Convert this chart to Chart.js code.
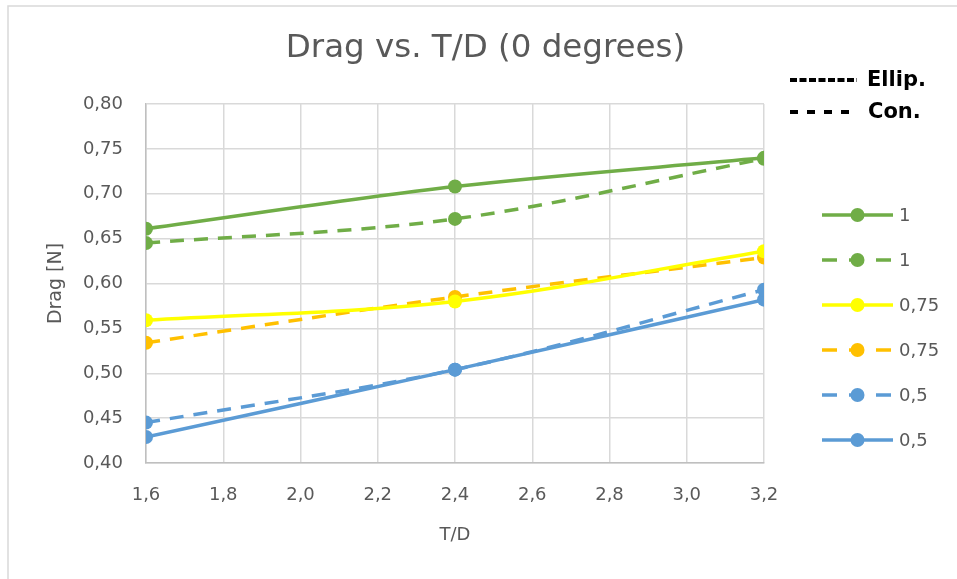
<!DOCTYPE html>
<html>
<head>
<meta charset="utf-8">
<script src="https://cdn.jsdelivr.net/npm/chart.js@4"></script>
<style>
    body { margin: 0; background: #fff; }
    #wrap { position: relative; width: 957px; height: 579px; }
</style>
</head>
<body>
<div id="wrap"><canvas id="dragChart" width="957" height="579"></canvas></div>
<script>
// T/D values and drag values [N]
const tdValues = [1.6, 2.4, 3.2];
const xTicks = [1.6, 1.8, 2.0, 2.2, 2.4, 2.6, 2.8, 3.0, 3.2];
const yTicks = [0.40, 0.45, 0.50, 0.55, 0.60, 0.65, 0.70, 0.75, 0.80];

const ellip1 = [0.661, 0.708, 0.740];
const con1 = [0.645, 0.672, 0.739];
const ellip075 = [0.559, 0.580, 0.636];
const con075 = [0.534, 0.585, 0.629];
const con05 = [0.445, 0.504, 0.593];
const ellip05 = [0.429, 0.504, 0.582];

const seriesLabels = ['1', '1', '0,75', '0,75', '0,5', '0,5'];
const chartTitle = 'Drag vs. T/D (0 degrees)';

const GRAY = '#595959';
const FONT = '"DejaVu Sans", sans-serif';

function makeSet(label, values, color, dashed) {
    return {
        label: label,
        data: values.map((v, i) => ({ x: tdValues[i], y: v })),
        borderColor: color,
        backgroundColor: color,
        borderWidth: 3.5,
        borderDash: dashed ? [14, 10] : [],
        pointRadius: 7,
        pointHoverRadius: 7,
        pointBorderWidth: 0,
        pointBackgroundColor: color,
        tension: 0.35,
        fill: false
    };
}

const datasets = [
    makeSet(seriesLabels[0], ellip1, '#70AD47', false),
    makeSet(seriesLabels[1], con1, '#70AD47', true),
    makeSet(seriesLabels[2], ellip075, '#FFFF00', false),
    makeSet(seriesLabels[3], con075, '#FFC000', true),
    makeSet(seriesLabels[4], con05, '#5B9BD5', true),
    makeSet(seriesLabels[5], ellip05, '#5B9BD5', false)
];

// frame, title, legend and the Ellip./Con. key
const extras = {
    id: 'extras',
    beforeDraw(chart) {
        const ctx = chart.ctx;
        ctx.save();
        ctx.fillStyle = '#fff';
        ctx.fillRect(0, 0, chart.width, chart.height);
        ctx.strokeStyle = '#D9D9D9';
        ctx.lineWidth = 1.5;
        ctx.beginPath();
        ctx.moveTo(8, chart.height);
        ctx.lineTo(8, 6);
        ctx.lineTo(chart.width, 6);
        ctx.stroke();
        ctx.restore();
    },
    afterDraw(chart) {
        const ctx = chart.ctx;
        ctx.save();
        // title (centred on the whole frame, not the plot)
        ctx.fillStyle = GRAY;
        ctx.font = '32.5px ' + FONT;
        ctx.textAlign = 'center';
        ctx.textBaseline = 'middle';
        ctx.fillText(chartTitle, 485.5, 49);
        // legend
        const x0 = 822, x1 = 893, top = 215, step = 45;
        chart.data.datasets.forEach((ds, i) => {
            const y = top + i * step;
            ctx.strokeStyle = ds.borderColor;
            ctx.lineWidth = 3.5;
            ctx.setLineDash(ds.borderDash.length ? [15, 12] : []);
            ctx.beginPath();
            ctx.moveTo(x0, y);
            ctx.lineTo(x1, y);
            ctx.stroke();
            ctx.setLineDash([]);
            ctx.fillStyle = ds.borderColor;
            ctx.beginPath();
            ctx.arc((x0 + x1) / 2, y, 7, 0, Math.PI * 2);
            ctx.fill();
            ctx.fillStyle = GRAY;
            ctx.font = '18px ' + FONT;
            ctx.textAlign = 'left';
            ctx.textBaseline = 'middle';
            ctx.fillText(ds.label, 899, y + 1);
        });
        // shape key
        ctx.strokeStyle = '#000';
        ctx.lineWidth = 4;
        ctx.setLineDash([7, 2.5]);
        ctx.beginPath();
        ctx.moveTo(790, 80);
        ctx.lineTo(857, 80);
        ctx.stroke();
        ctx.setLineDash([8, 9]);
        ctx.beginPath();
        ctx.moveTo(790, 112);
        ctx.lineTo(852, 112);
        ctx.stroke();
        ctx.setLineDash([]);
        ctx.fillStyle = '#000';
        ctx.font = 'bold 21px ' + FONT;
        ctx.textAlign = 'left';
        ctx.textBaseline = 'middle';
        ctx.fillText('Ellip.', 867, 81);
        ctx.fillText('Con.', 868, 113);
        ctx.restore();
    }
};

const ctx = document.getElementById('dragChart').getContext('2d');
new Chart(ctx, {
    type: 'line',
    data: { datasets: datasets },
    options: {
        responsive: false,
        animation: false,
        events: [],
        layout: { padding: { left: 30, right: 193, top: 104, bottom: 20 } },
        plugins: {
            legend: { display: false },
            tooltip: { enabled: false },
            title: { display: false }
        },
        scales: {
            x: {
                type: 'linear',
                min: xTicks[0],
                max: xTicks[xTicks.length - 1],
                afterBuildTicks: (axis) => { axis.ticks = xTicks.map(v => ({ value: v })); },
                afterFit: (axis) => { axis.height = 96; },
                ticks: {
                    color: GRAY,
                    font: { family: FONT, size: 18 },
                    padding: 22,
                    maxRotation: 0,
                    callback: (v) => v.toFixed(1).replace('.', ',')
                },
                grid: { color: '#D9D9D9', lineWidth: 1.5, drawTicks: false },
                border: { color: '#BFBFBF', width: 1.5 },
                title: {
                    display: true,
                    text: 'T/D',
                    color: GRAY,
                    font: { family: FONT, size: 18 },
                    padding: { top: 0, bottom: 13 }
                }
            },
            y: {
                min: yTicks[0],
                max: yTicks[yTicks.length - 1],
                afterBuildTicks: (axis) => { axis.ticks = yTicks.map(v => ({ value: v })); },
                afterFit: (axis) => { axis.width = 116; },
                ticks: {
                    color: GRAY,
                    font: { family: FONT, size: 18 },
                    padding: 23,
                    callback: (v) => v.toFixed(2).replace('.', ',')
                },
                grid: { color: '#D9D9D9', lineWidth: 1.5, drawTicks: false },
                border: { color: '#BFBFBF', width: 1.5 },
                title: {
                    display: true,
                    text: 'Drag [N]',
                    color: GRAY,
                    font: { family: FONT, size: 19 },
                    padding: { top: 15, bottom: 0 }
                }
            }
        }
    },
    plugins: [extras]
});
</script>
</body>
</html>
